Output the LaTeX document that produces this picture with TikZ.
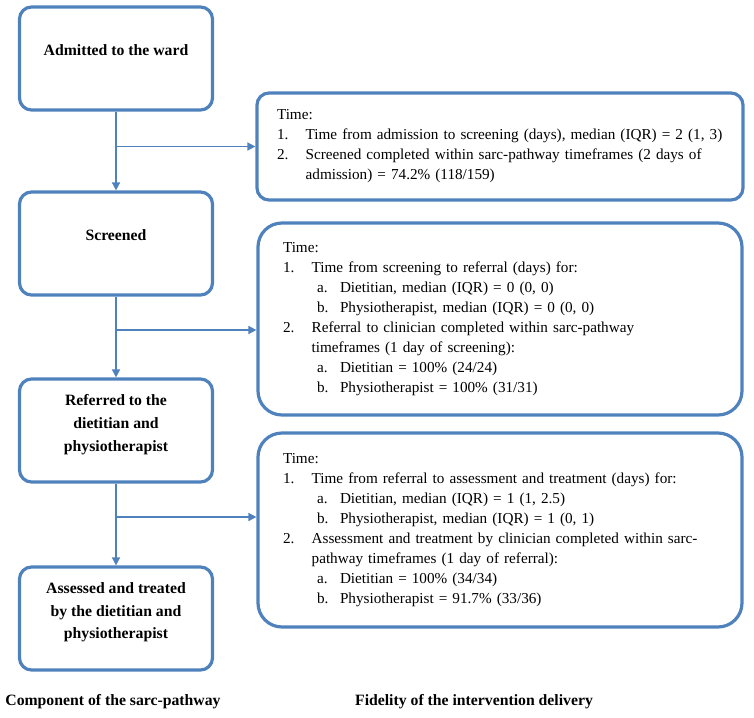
\documentclass[tikz,border=0pt]{standalone}
\usepackage{fontspec}
\setmainfont{Liberation Serif}
\usepackage{tikz}
\usetikzlibrary{arrows.meta,positioning}

\definecolor{boxblue}{RGB}{79,129,189}
\newcommand\itm[2]{\mbox{\makebox[21.5pt][l]{#1}#2}}
\newcommand\subitm[2]{\mbox{\hspace{25.5pt}\makebox[17.25pt][l]{#1}#2}}

\begin{document}
\begin{tikzpicture}[x=0.75pt,y=-0.75pt,
    every node/.style={font=\fontsize{11.4}{15}\selectfont},
    phase/.style={draw=boxblue, line width=2.4pt, rounded corners=9pt,
      minimum width=144.75pt, minimum height=77.25pt},
    ptext/.style={font=\fontsize{11.8}{17}\selectfont\bfseries, align=center},
    fidel/.style={draw=boxblue, line width=2.4pt, align=left, inner xsep=18.75pt,
      text width=325.5pt, rounded corners=18pt},
    flow/.style={draw=boxblue, line width=1.2pt, -{Triangle[length=6pt,width=6pt]}}]

  \useasboundingbox (0,0) rectangle (754,718);

  \node[phase] (adm) at (116,58.5) {};
  \node[ptext] (admtxt) at ([yshift=6.4pt]adm.center) {Admitted to the ward};
  \node[phase] (scr) at (116,243.5) {};
  \node[ptext] (scrtxt) at ([yshift=6.4pt]scr.center) {Screened};
  \node[phase] (ref) at (116,430.5) {};
  \node[ptext] (reftxt) at ([yshift=4.5pt]ref.center) {Referred to the\\dietitian and\\physiotherapist};
  \node[phase] (ass) at (116,618.5) {};
  \node[ptext] (asstxt) at ([yshift=4.5pt]ass.center) {Assessed and treated\\by the dietitian and\\physiotherapist};

  \node[fidel, inner xsep=15pt, text width=334.5pt, rounded corners=9pt,
    minimum height=80.25pt] (tadm) at (500,146.5) {Time:\\
    \itm{1.}{Time from admission to screening (days), median (IQR) = 2 (1, 3)}\\
    \itm{2.}{Screened completed within sarc-pathway timeframes (2 days of}\\
    \itm{}{admission) = 74.2\% (118/159)}};

  \node[fidel, minimum height=144pt] (tscr) at (500,319) {Time:\\
    \itm{1.}{Time from screening to referral (days) for:}\\
    \subitm{a.}{Dietitian, median (IQR) = 0 (0, 0)}\\
    \subitm{b.}{Physiotherapist, median (IQR) = 0 (0, 0)}\\
    \itm{2.}{Referral to clinician completed within sarc-pathway}\\
    \itm{}{timeframes (1 day of screening):}\\
    \subitm{a.}{Dietitian = 100\% (24/24)}\\
    \subitm{b.}{Physiotherapist = 100\% (31/31)}};

  \node[fidel, minimum height=145.5pt] (tref) at (500,530) {Time:\\
    \itm{1.}{Time from referral to assessment and treatment (days) for:}\\
    \subitm{a.}{Dietitian, median (IQR) = 1 (1, 2.5)}\\
    \subitm{b.}{Physiotherapist, median (IQR) = 1 (0, 1)}\\
    \itm{2.}{Assessment and treatment by clinician completed within sarc-}\\
    \itm{}{pathway timeframes (1 day of referral):}\\
    \subitm{a.}{Dietitian = 100\% (34/34)}\\
    \subitm{b.}{Physiotherapist = 91.7\% (33/36)}};

  \draw[flow] (adm.south) -- (scr.north);
  \draw[flow] (scr.south) -- (ref.north);
  \draw[flow] (ref.south) -- (ass.north);

  \coordinate (br1) at (adm.south |- tadm.west);
  \coordinate (br2) at (116,330);
  \coordinate (br3) at (116,517);
  \draw[flow] (br1) -- (tadm.west);
  \draw[flow] (br2) -- (br2 -| tscr.west);
  \draw[flow] (br3) -- (br3 -| tref.west);

  \node[font=\fontsize{11.8}{15}\selectfont\bfseries] (comp) at (113,702) {Component of the sarc-pathway};
  \node[font=\fontsize{11.8}{15}\selectfont\bfseries] (fid) at (474,702) {Fidelity of the intervention delivery};

\end{tikzpicture}
\end{document}
